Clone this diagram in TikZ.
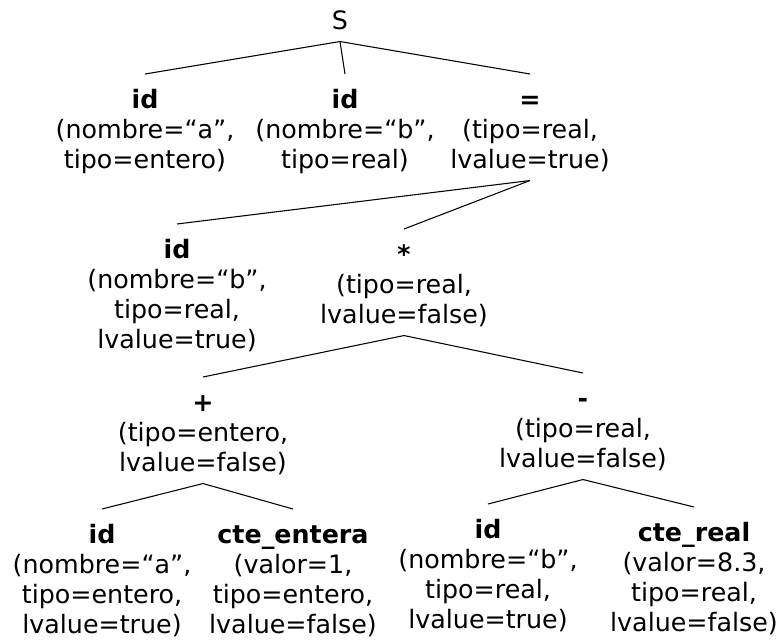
\documentclass[tikz,border=0pt]{standalone}
\usepackage{fontspec}
\setmainfont{DejaVu Sans}
\newcommand\hdtop{\rule{0pt}{25.5pt}}
\newcommand\hdbot{\rule[-9pt]{0pt}{9pt}}
\begin{document}
\begin{tikzpicture}[x=0.75pt,y=-0.75pt,
  tn/.style={align=center, inner sep=0pt, anchor=north, font={\fontsize{19}{22.5}\selectfont}},
  edge/.style={line width=0.8pt, black}]
\useasboundingbox (0,0) rectangle (779,640);
\node[tn] (S) at (340,-5) {\hdtop S\hdbot};
\node[tn] (id1) at (145,74) {\hdtop\textbf{id}\\(nombre=“a”,\\tipo=entero)\hdbot};
\node[tn] (id2) at (345,74) {\hdtop\textbf{id}\\(nombre=“b”,\\tipo=real)\hdbot};
\node[tn] (eq) at (530,74) {\hdtop\textbf{=}\\(tipo=real,\\lvalue=true)\hdbot};
\node[tn] (id3) at (177,224) {\hdtop\textbf{id}\\(nombre=“b”,\\tipo=real,\\lvalue=true)\hdbot};
\node[tn] (star) at (404,229) {\hdtop\textbf{*}\\(tipo=real,\\lvalue=false)\hdbot};
\node[tn] (plus) at (203,377) {\hdtop\textbf{+}\\(tipo=entero,\\lvalue=false)\hdbot};
\node[tn] (minus) at (583,373) {\hdtop\textbf{-}\\(tipo=real,\\lvalue=false)\hdbot};
\node[tn] (id4) at (102,509) {\hdtop\textbf{id}\\(nombre=“a”,\\tipo=entero,\\lvalue=true)\hdbot};
\node[tn] (cent) at (293,509) {\hdtop\textbf{cte\_entera}\\(valor=1,\\tipo=entero,\\lvalue=false)\hdbot};
\node[tn] (id5) at (488,504) {\hdtop\textbf{id}\\(nombre=“b”,\\tipo=real,\\lvalue=true)\hdbot};
\node[tn] (creal) at (694,507) {\hdtop\textbf{cte\_real}\\(valor=8.3,\\tipo=real,\\lvalue=false)\hdbot};
\draw[edge] (S.south) -- (id1.north);
\draw[edge] (S.south) -- (id2.north);
\draw[edge] (S.south) -- (eq.north);
\draw[edge] (eq.south) -- (id3.north);
\draw[edge] (eq.south) -- (star.north);
\draw[edge] (star.south) -- (plus.north);
\draw[edge] (star.south) -- (minus.north);
\draw[edge] (plus.south) -- (id4.north);
\draw[edge] (plus.south) -- (cent.north);
\draw[edge] (minus.south) -- (id5.north);
\draw[edge] (minus.south) -- (creal.north);
\end{tikzpicture}
\end{document}
